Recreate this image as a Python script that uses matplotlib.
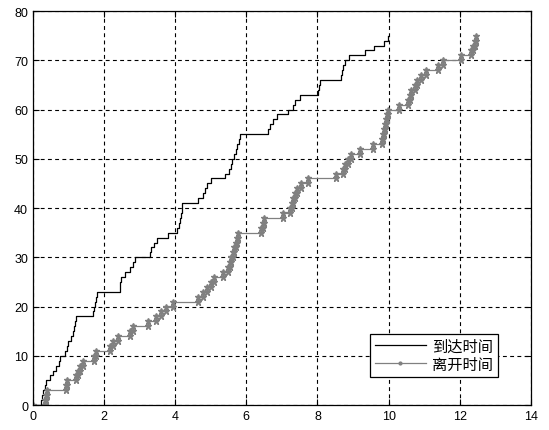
import numpy as np
import matplotlib
matplotlib.use("Agg")
import matplotlib.pyplot as plt
from matplotlib.lines import Line2D

plt.rcParams['font.family'] = ['Liberation Sans', 'Noto Sans CJK SC', 'DejaVu Sans']

# arrival / departure times of customers 1..75
arrival_times = [0.22, 0.26, 0.28, 0.33, 0.36, 0.47, 0.56, 0.66, 0.72, 0.76,
                 0.90, 0.95, 0.99, 1.08, 1.12, 1.15, 1.18, 1.21, 1.69, 1.72,
                 1.75, 1.78, 1.80, 2.44, 2.46, 2.48, 2.58, 2.72, 2.80, 2.86,
                 3.28, 3.32, 3.40, 3.50, 3.80, 4.04, 4.10, 4.13, 4.15, 4.18,
                 4.20, 4.63, 4.78, 4.85, 4.88, 5.00, 5.39, 5.52, 5.56, 5.59,
                 5.65, 5.72, 5.75, 5.78, 5.81, 6.62, 6.66, 6.75, 6.85, 7.16,
                 7.30, 7.36, 7.50, 8.02, 8.04, 8.06, 8.65, 8.68, 8.72, 8.76,
                 8.88, 9.33, 9.60, 9.88, 9.97]

departure_times = [0.33, 0.36, 0.40, 0.93, 0.95, 1.20, 1.26, 1.32, 1.40, 1.73,
                   1.78, 2.17, 2.25, 2.38, 2.72, 2.80, 3.23, 3.45, 3.60, 3.74,
                   3.95, 4.64, 4.78, 4.90, 5.00, 5.10, 5.34, 5.48, 5.53, 5.58,
                   5.62, 5.66, 5.70, 5.73, 5.76, 6.42, 6.46, 6.50, 7.03, 7.22,
                   7.27, 7.32, 7.37, 7.42, 7.55, 7.72, 8.53, 8.72, 8.78, 8.85,
                   8.95, 9.19, 9.56, 9.80, 9.83, 9.86, 9.90, 9.93, 9.96, 9.99,
                   10.30, 10.55, 10.60, 10.64, 10.73, 10.80, 10.92, 11.06, 11.38, 11.52,
                   12.04, 12.32, 12.36, 12.42, 12.47]

labels = ["到达时间", "离开时间"]


def stair_vertices(times):
    # corner points of a staircase count curve starting at (0, 0)
    xs, ys = [0.0], [0]
    for k, t in enumerate(times, start=1):
        xs += [t, t]
        ys += [k - 1, k]
    return np.array(xs), np.array(ys)


fig = plt.figure(figsize=(5.49, 4.31), dpi=100)
ax = fig.add_axes([0.060, 0.058, 0.907, 0.914])

ax_x, ax_y = stair_vertices(arrival_times)
dp_x, dp_y = stair_vertices(departure_times)

ax.plot(ax_x, ax_y, color="black", lw=0.9)
ax.plot(dp_x, dp_y, color="#808080", lw=0.9, marker="*", markersize=5,
        markerfacecolor="#808080", markeredgecolor="#808080")

ax.set_xlim(0, 14)
ax.set_ylim(0, 80)
ax.set_xticks(np.arange(0, 15, 2))
ax.set_yticks(np.arange(0, 81, 10))
ax.tick_params(direction="in", top=True, right=True, labelsize=9, length=4)
ax.grid(True, color="black", linestyle=(0, (3.5, 3)), linewidth=0.8)
for s in ax.spines.values():
    s.set_linewidth(0.9)

handles = [Line2D([], [], color="black", lw=0.9),
           Line2D([], [], color="#808080", lw=0.9, marker=".", markersize=4)]
leg = ax.legend(handles, labels, loc="lower right", bbox_to_anchor=(0.934, 0.071),
                borderaxespad=0, fancybox=False, framealpha=1, edgecolor="black",
                fontsize=11, handlelength=3.3, handletextpad=0.4,
                labelspacing=0.25, borderpad=0.35)
leg.get_frame().set_linewidth(0.9)

fig.savefig("out.png", dpi=100)
